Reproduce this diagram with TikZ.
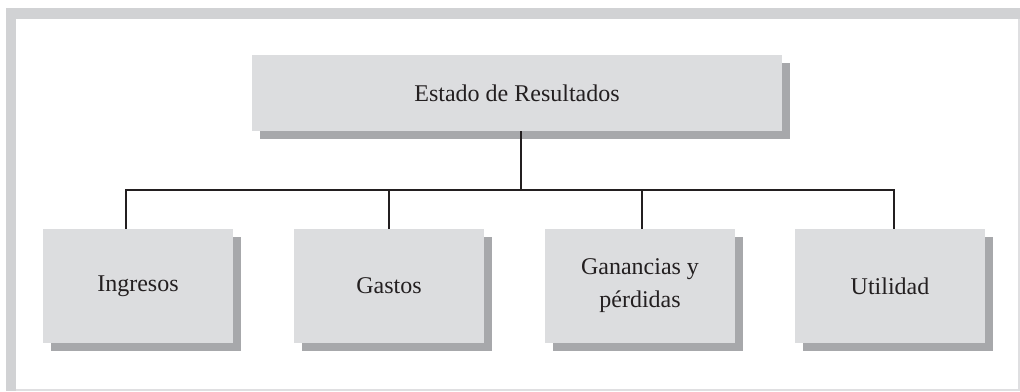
\documentclass[tikz,border=0pt]{standalone}
\usepackage{fontspec}
\setmainfont{Liberation Serif}
\usetikzlibrary{shadows}

\definecolor{boxgray}{HTML}{DCDDDF}
\definecolor{shadegray}{HTML}{A7A8AB}
\definecolor{framegray}{HTML}{D1D2D4}
\definecolor{inkgray}{HTML}{231F20}

\tikzset{
  cuenta/.style={fill=boxgray, inner sep=0pt, outer sep=0pt, align=center,
    text=inkgray, font=\fontsize{24}{33}\selectfont,
    drop shadow={shadow xshift=8pt, shadow yshift=-8pt, fill=shadegray, opacity=1}},
  hijo/.style={cuenta, minimum width=190pt, minimum height=114pt},
  rama/.style={draw=inkgray, line width=2pt}
}

\begin{document}
\begin{tikzpicture}[x=1pt, y=-1pt]

  \useasboundingbox (0,0) rectangle (1020,391);

  % marco
  \fill[framegray] (6,8) rectangle (1020,19);
  \fill[framegray] (6,8) rectangle (16,391);
  \fill[framegray!70] (16,389) rectangle (1020,391);
  \fill[framegray!70] (1018,19) rectangle (1020,391);

  % cajas
  \node[cuenta, minimum width=530pt, minimum height=76pt] (estado) at (517,93) {Estado de Resultados};

  \node[hijo] (ingresos)  at (138,286) {Ingresos};
  \node[hijo] (gastos)    at (389,286) {Gastos};
  \node[hijo] (ganancias) at (640,286) {Ganancias y\\pérdidas};
  \node[hijo] (utilidad)  at (890,286) {Utilidad};

  % ramas
  \coordinate (bus) at (521,190);
  \draw[rama] ([xshift=4pt]estado.south) -- (bus);
  \draw[rama] ([xshift=-12pt]ingresos.north) |- ([xshift=4pt]utilidad.north |- bus) -- ([xshift=4pt]utilidad.north);
  \draw[rama] (gastos.north) -- (gastos.north |- bus);
  \draw[rama] ([xshift=2pt]ganancias.north) -- ([xshift=2pt]ganancias.north |- bus);

\end{tikzpicture}
\end{document}
